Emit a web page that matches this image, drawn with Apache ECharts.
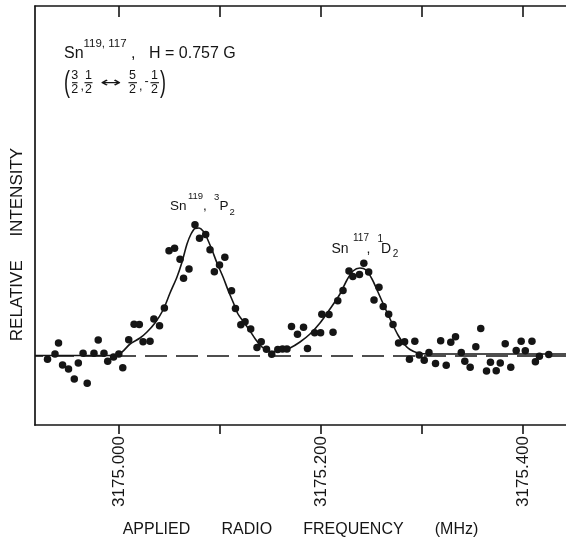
<!DOCTYPE html>
<html>
<head>
<meta charset="utf-8">
<script src="https://cdn.jsdelivr.net/npm/echarts@6/dist/echarts.min.js"></script>
<style>
html,body{margin:0;padding:0;background:#fff;}
#chart{width:566px;height:544px;}
</style>
</head>
<body>
<div id="chart"></div>
<script>
// Measured points: applied frequency (MHz) and relative intensity (arb. units, baseline = 0)
const freqPoints = [
  3174.9292, 3174.9366, 3174.9401, 3174.9441, 3174.9500, 3174.9557, 3174.9597, 3174.9644, 3174.9685, 3174.9752,
  3174.9794, 3174.9851, 3174.9888, 3174.9946, 3174.9998, 3175.0037, 3175.0096, 3175.0149, 3175.0201, 3175.0238,
  3175.0307, 3175.0345, 3175.0401, 3175.0449, 3175.0495, 3175.0550, 3175.0604, 3175.0639, 3175.0693, 3175.0752,
  3175.0797, 3175.0858, 3175.0901, 3175.0944, 3175.0995, 3175.1048, 3175.1114, 3175.1153, 3175.1206, 3175.1248,
  3175.1304, 3175.1366, 3175.1408, 3175.1460, 3175.1512, 3175.1572, 3175.1619, 3175.1663, 3175.1708, 3175.1767,
  3175.1827, 3175.1866, 3175.1937, 3175.1996, 3175.2008, 3175.2079, 3175.2119, 3175.2166, 3175.2218, 3175.2277,
  3175.2315, 3175.2381, 3175.2424, 3175.2472, 3175.2525, 3175.2574, 3175.2616, 3175.2670, 3175.2713, 3175.2768,
  3175.2828, 3175.2876, 3175.2929, 3175.2972, 3175.3022, 3175.3069, 3175.3134, 3175.3185, 3175.3240, 3175.3285,
  3175.3332, 3175.3389, 3175.3424, 3175.3477, 3175.3533, 3175.3582, 3175.3639, 3175.3678, 3175.3735, 3175.3775,
  3175.3824, 3175.3879, 3175.3933, 3175.3982, 3175.4023, 3175.4089, 3175.4123, 3175.4163, 3175.4255
];
const intensityPoints = [
  -0.38, 0.15, 1.25, -0.95, -1.35, -2.35, -0.75, 0.22, -2.77, 0.22,
  1.55, 0.22, -0.57, -0.15, 0.15, -1.22, 1.58, 3.12, 3.10, 1.37,
  1.42, 3.65, 2.97, 4.75, 10.47, 10.73, 9.62, 7.73, 8.65, 13.08,
  11.73, 12.10, 10.58, 8.38, 9.05, 9.82, 6.48, 4.70, 3.07, 3.37,
  2.65, 0.80, 1.38, 0.63, 0.13, 0.60, 0.65, 0.65, 2.90, 2.12,
  2.82, 0.70, 2.28, 2.28, 4.13, 4.09, 2.32, 5.47, 6.50, 8.45,
  7.90, 8.11, 9.22, 8.35, 5.55, 6.82, 4.90, 4.13, 3.10, 1.25,
  1.37, -0.38, 1.42, 0.05, -0.47, 0.30, -0.81, 1.48, -0.97, 1.32,
  1.88, 0.30, -0.57, -1.17, 0.88, 2.70, -1.55, -0.68, -1.52, -0.75,
  1.17, -1.17, 0.50, 1.42, 0.48, 1.43, -0.63, -0.07, 0.11
];
// Fitted curve
const fitFreq = [
  3174.9168, 3174.9911, 3174.9960, 3175.0030, 3175.0109, 3175.0208, 3175.0277, 3175.0356, 3175.0436, 3175.0505,
  3175.0574, 3175.0624, 3175.0673, 3175.0713, 3175.0752, 3175.0792, 3175.0832, 3175.0871, 3175.0921, 3175.0970,
  3175.1030, 3175.1079, 3175.1129, 3175.1178, 3175.1228, 3175.1297, 3175.1356, 3175.1416, 3175.1495, 3175.1594,
  3175.1693, 3175.1792, 3175.1891, 3175.1990, 3175.2089, 3175.2188, 3175.2257, 3175.2317, 3175.2386, 3175.2446,
  3175.2505, 3175.2564, 3175.2634, 3175.2703, 3175.2762, 3175.2822, 3175.2881, 3175.2960, 3175.3079, 3175.4426
];
const fitIntensity = [
  0, 0, 0.05, 0.35, 1.15, 1.75, 2.35, 3.25, 4.55, 6.25,
  7.85, 9.35, 11.15, 12.15, 12.70, 12.75, 12.45, 11.75, 10.55, 9.25,
  7.85, 6.55, 5.35, 4.15, 3.45, 2.45, 1.55, 0.85, 0.40, 0.45,
  0.75, 1.35, 2.15, 3.25, 4.65, 6.15, 7.55, 8.45, 8.75, 8.55,
  7.65, 6.35, 4.75, 3.25, 2.05, 1.15, 0.60, 0.25, 0.15, 0.15
];
const tickValues = [3175.0, 3175.1, 3175.2, 3175.3, 3175.4];
const labelValues = [3175.0, 3175.2, 3175.4];
const xMin = 3174.9168, xMax = 3175.4426;
const yMin = -6.95, yMax = 34.95;

const INK = '#151515';
const FONT = 'Liberation Sans';

function txt(text, x, y, size, opts) {
  opts = opts || {};
  return {
    type: 'text', x: x, y: y, scaleX: opts.scaleX || 1,
    style: {
      text: text, fontSize: size, fontFamily: opts.family || FONT, fill: INK,
      align: opts.align || 'left', verticalAlign: 'middle'
    }
  };
}
function bar(x1, x2, y) {
  return { type: 'line', shape: { x1: x1, y1: y, x2: x2, y2: y }, style: { stroke: INK, lineWidth: 1.1 } };
}

const chart = echarts.init(document.getElementById('chart'), null, { renderer: 'canvas' });
const option = {
  backgroundColor: '#fff',
  animation: false,
  grid: { left: 35, top: 6, right: 0, bottom: 119, containLabel: false },
  xAxis: [
    {
      type: 'value', position: 'bottom', min: xMin, max: xMax,
      axisLine: { show: true, onZero: false, lineStyle: { color: INK, width: 1.7 } },
      axisTick: { show: true, inside: false, length: 9, customValues: tickValues, lineStyle: { color: INK, width: 1.6 } },
      axisLabel: {
        show: true, customValues: labelValues, rotate: 90, margin: 11,
        formatter: v => v.toFixed(3), fontSize: 17, fontFamily: FONT, color: INK
      },
      splitLine: { show: false },
      name: 'APPLIED       RADIO       FREQUENCY       (MHz)',
      nameLocation: 'middle', nameGap: 97,
      nameTextStyle: { fontSize: 16, fontFamily: FONT, color: INK }
    },
    {
      type: 'value', position: 'top', min: xMin, max: xMax,
      axisLine: { show: true, onZero: false, lineStyle: { color: INK, width: 1.7 } },
      axisTick: { show: true, inside: true, length: 11, customValues: tickValues, lineStyle: { color: INK, width: 1.6 } },
      axisLabel: { show: false },
      splitLine: { show: false }
    }
  ],
  yAxis: {
    type: 'value', min: yMin, max: yMax,
    axisLine: { show: true, onZero: false, lineStyle: { color: INK, width: 1.7 } },
    axisTick: { show: false }, axisLabel: { show: false }, splitLine: { show: false },
    name: 'RELATIVE     INTENSITY', nameLocation: 'middle', nameRotate: 90, nameGap: 9,
    nameTextStyle: { fontSize: 17, fontFamily: FONT, color: INK, padding: [0, 58, 0, 0] }
  },
  series: [
    {
      type: 'line', name: 'fit', xAxisIndex: 0,
      data: fitFreq.map((f, i) => [f, fitIntensity[i]]),
      showSymbol: false, symbol: 'none', smooth: 0.3,
      lineStyle: { color: INK, width: 1.6 },
      z: 2, silent: true,
      markLine: {
        silent: true, symbol: ['none', 'none'], label: { show: false },
        lineStyle: { color: INK, width: 1.5, type: [22, 9], dashOffset: 14 },
        data: [{ yAxis: 0 }]
      }
    },
    {
      type: 'scatter', name: 'data', xAxisIndex: 0,
      data: freqPoints.map((f, i) => [f, intensityPoints[i]]),
      symbol: 'circle', symbolSize: 7.5,
      itemStyle: { color: INK, opacity: 1 },
      z: 3
    }
  ],
  graphic: [
    // Sn^{119,117},  H = 0.757 G
    txt('Sn', 64, 54, 16),
    txt('119, 117', 83.5, 44, 11.5),
    txt(',', 131, 54, 16),
    txt('H = 0.757 G', 149, 54, 16),
    // (3/2, 1/2 <-> 5/2, -1/2)
    txt('(', 64, 83.4, 30, { scaleX: 0.6 }),
    txt('3', 74.7, 76, 12.5, { align: 'center' }), bar(72, 77.5, 82.7), txt('2', 74.7, 89.7, 12.5, { align: 'center' }),
    txt(',', 80.5, 86.8, 12.5),
    txt('1', 88.4, 76, 12.5, { align: 'center' }), bar(84.5, 92.5, 82.7), txt('2', 88.4, 89.7, 12.5, { align: 'center' }),
    txt('↔', 110.8, 83.3, 14, { align: 'center', family: 'DejaVu Sans', scaleX: 1.8 }),
    txt('5', 132.5, 76, 12.5, { align: 'center' }), bar(128.5, 137, 82.7), txt('2', 132.5, 89.7, 12.5, { align: 'center' }),
    txt(',', 139, 86.8, 12.5),
    txt('-', 146.7, 81.7, 12.5, { align: 'center' }),
    txt('1', 154.6, 76, 12.5, { align: 'center' }), bar(150.5, 159, 82.7), txt('2', 154.6, 89.7, 12.5, { align: 'center' }),
    txt(')', 160, 83.4, 30, { scaleX: 0.6 }),
    // Sn^119, ^3P_2
    txt('Sn', 170, 206.2, 13.5),
    txt('119', 188, 196.3, 9.5),
    txt(',', 203, 206.2, 13.5),
    txt('3', 214, 197, 9.5),
    txt('P', 219.5, 206.2, 13.5),
    txt('2', 229.5, 212.5, 9.5),
    // Sn^117, ^1D_2
    txt('Sn', 331.5, 249, 14),
    txt('117', 353, 238.7, 10),
    txt(',', 366.5, 249, 14),
    txt('1', 377.5, 239.7, 10),
    txt('D', 381, 249, 14),
    txt('2', 392.7, 254.7, 10)
  ]
};
chart.setOption(option);
</script>
</body>
</html>
